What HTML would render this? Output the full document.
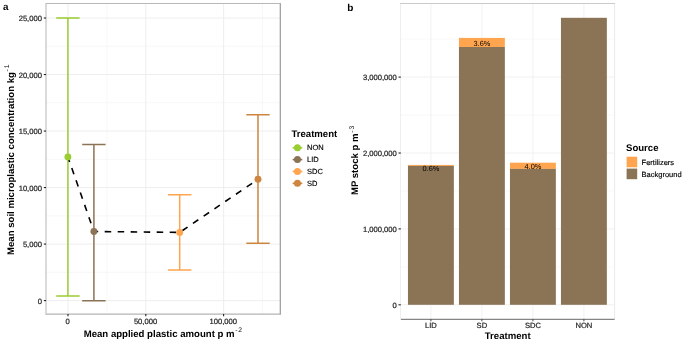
<!DOCTYPE html>
<html><head><meta charset="utf-8"><title>figure</title>
<style>
html,body{margin:0;padding:0;background:#fff;}
body{width:685px;height:343px;overflow:hidden;}
svg{display:block;will-change:transform;}
text{font-family:"Liberation Sans",sans-serif;fill:#000;text-rendering:geometricPrecision;}
.t{font-size:7.6px;fill:#262626;stroke:#262626;stroke-width:0.22px;}
.b{font-size:9.6px;font-weight:bold;}
.sup{font-size:6.7px;font-weight:normal;letter-spacing:1px;}
.l{font-size:7.5px;fill:#000;stroke:#000;stroke-width:0.15px;}
</style></head><body>
<svg width="685" height="343" viewBox="0 0 685 343">
<rect x="0" y="0" width="685" height="343" fill="#fff"/>

<g id="pa">
<line x1="46.0" x2="280.3" y1="272.34" y2="272.34" stroke="#f2f2f2" stroke-width="0.6"/>
<line x1="46.0" x2="280.3" y1="215.82" y2="215.82" stroke="#f2f2f2" stroke-width="0.6"/>
<line x1="46.0" x2="280.3" y1="159.30" y2="159.30" stroke="#f2f2f2" stroke-width="0.6"/>
<line x1="46.0" x2="280.3" y1="102.78" y2="102.78" stroke="#f2f2f2" stroke-width="0.6"/>
<line x1="46.0" x2="280.3" y1="46.26" y2="46.26" stroke="#f2f2f2" stroke-width="0.6"/>
<line y1="3.5" y2="314.1" x1="106.90" x2="106.90" stroke="#f2f2f2" stroke-width="0.6"/>
<line y1="3.5" y2="314.1" x1="262.50" x2="262.50" stroke="#f2f2f2" stroke-width="0.6"/>
<line x1="46.0" x2="280.3" y1="300.60" y2="300.60" stroke="#ececec" stroke-width="0.9"/>
<line x1="46.0" x2="280.3" y1="244.08" y2="244.08" stroke="#ececec" stroke-width="0.9"/>
<line x1="46.0" x2="280.3" y1="187.56" y2="187.56" stroke="#ececec" stroke-width="0.9"/>
<line x1="46.0" x2="280.3" y1="131.04" y2="131.04" stroke="#ececec" stroke-width="0.9"/>
<line x1="46.0" x2="280.3" y1="74.52" y2="74.52" stroke="#ececec" stroke-width="0.9"/>
<line x1="46.0" x2="280.3" y1="18.00" y2="18.00" stroke="#ececec" stroke-width="0.9"/>
<line y1="3.5" y2="314.1" x1="68.00" x2="68.00" stroke="#ececec" stroke-width="0.9"/>
<line y1="3.5" y2="314.1" x1="145.80" x2="145.80" stroke="#ececec" stroke-width="0.9"/>
<line y1="3.5" y2="314.1" x1="223.60" x2="223.60" stroke="#ececec" stroke-width="0.9"/>
<path d="M56.20 17.90H79.60M67.90 17.90V296.00M56.20 296.00H79.60" stroke="#9ACD32" stroke-width="1.5" fill="none"/>
<path d="M82.20 144.50H105.60M93.90 144.50V300.70M82.20 300.70H105.60" stroke="#8B7355" stroke-width="1.5" fill="none"/>
<path d="M168.00 194.80H191.40M179.70 194.80V270.00M168.00 270.00H191.40" stroke="#FFA54F" stroke-width="1.5" fill="none"/>
<path d="M246.30 114.70H269.70M258.00 114.70V243.20M246.30 243.20H269.70" stroke="#CD853F" stroke-width="1.5" fill="none"/>
<path d="M67.90 156.90 L93.90 231.50 L179.70 232.40 L258.00 179.30" stroke="#000" stroke-width="1.6" stroke-dasharray="6.5 6.5" stroke-dashoffset="1.2" fill="none"/>
<circle cx="67.90" cy="156.90" r="3.45" fill="#9ACD32"/>
<circle cx="93.90" cy="231.50" r="3.45" fill="#8B7355"/>
<circle cx="179.70" cy="232.40" r="3.45" fill="#FFA54F"/>
<circle cx="258.00" cy="179.30" r="3.45" fill="#CD853F"/>
<path d="M46.0 2.95V314.65000000000003" stroke="#bcbcbc" stroke-width="1.1"/>
<path d="M280.3 2.95V314.65000000000003" stroke="#9a9a9a" stroke-width="1.2"/>
<path d="M46.0 3.5H280.3" stroke="#b8b8b8" stroke-width="1.1"/>
<path d="M46.0 314.1H280.3" stroke="#b4b4b4" stroke-width="1.1"/>
<line x1="43.8" x2="46.0" y1="300.60" y2="300.60" stroke="#222" stroke-width="1.1"/>
<text class="t" x="41.9" y="303.70" text-anchor="end">0</text>
<line x1="43.8" x2="46.0" y1="244.08" y2="244.08" stroke="#222" stroke-width="1.1"/>
<text class="t" x="41.9" y="247.18" text-anchor="end">5,000</text>
<line x1="43.8" x2="46.0" y1="187.56" y2="187.56" stroke="#222" stroke-width="1.1"/>
<text class="t" x="41.9" y="190.66" text-anchor="end">10,000</text>
<line x1="43.8" x2="46.0" y1="131.04" y2="131.04" stroke="#222" stroke-width="1.1"/>
<text class="t" x="41.9" y="134.14" text-anchor="end">15,000</text>
<line x1="43.8" x2="46.0" y1="74.52" y2="74.52" stroke="#222" stroke-width="1.1"/>
<text class="t" x="41.9" y="77.62" text-anchor="end">20,000</text>
<line x1="43.8" x2="46.0" y1="18.00" y2="18.00" stroke="#222" stroke-width="1.1"/>
<text class="t" x="41.9" y="21.10" text-anchor="end">25,000</text>
<line y1="314.1" y2="316.3" x1="68.00" x2="68.00" stroke="#222" stroke-width="1.1"/>
<text class="t" x="67.70" y="323.9" text-anchor="middle">0</text>
<line y1="314.1" y2="316.3" x1="145.80" x2="145.80" stroke="#222" stroke-width="1.1"/>
<text class="t" x="145.50" y="323.9" text-anchor="middle">50,000</text>
<line y1="314.1" y2="316.3" x1="223.60" x2="223.60" stroke="#222" stroke-width="1.1"/>
<text class="t" x="223.30" y="323.9" text-anchor="middle">100,000</text>
<text class="b" x="163.4" y="336.8" text-anchor="middle">Mean applied plastic amount p m<tspan class="sup" dy="-4.4" dx="0.6">-2</tspan></text>
<text class="b" transform="translate(13.5 159.3) rotate(-90)" text-anchor="middle">Mean soil microplastic concentration kg<tspan class="sup" dy="-4.4" dx="0.6">-1</tspan></text>
<text x="3.1" y="10.2" font-size="9.8px" font-weight="bold">a</text>
<text class="b" x="291.4" y="136.7">Treatment</text>
<line x1="292.6" x2="302.3" y1="147.75" y2="147.75" stroke="#9ACD32" stroke-width="1.6"/>
<circle cx="297.45" cy="147.75" r="3.5" fill="#9ACD32"/>
<text class="l" x="307.1" y="150.25">NON</text>
<line x1="292.6" x2="302.3" y1="159.62" y2="159.62" stroke="#8B7355" stroke-width="1.6"/>
<circle cx="297.45" cy="159.62" r="3.5" fill="#8B7355"/>
<text class="l" x="307.1" y="162.12">LID</text>
<line x1="292.6" x2="302.3" y1="171.49" y2="171.49" stroke="#FFA54F" stroke-width="1.6"/>
<circle cx="297.45" cy="171.49" r="3.5" fill="#FFA54F"/>
<text class="l" x="307.1" y="173.99">SDC</text>
<line x1="292.6" x2="302.3" y1="183.36" y2="183.36" stroke="#CD853F" stroke-width="1.6"/>
<circle cx="297.45" cy="183.36" r="3.5" fill="#CD853F"/>
<text class="l" x="307.1" y="185.86">SD</text>
</g>
<g id="pb">
<line x1="400.6" x2="614.6" y1="266.85" y2="266.85" stroke="#f4f4f4" stroke-width="0.6"/>
<line x1="400.6" x2="614.6" y1="190.95" y2="190.95" stroke="#f4f4f4" stroke-width="0.6"/>
<line x1="400.6" x2="614.6" y1="115.05" y2="115.05" stroke="#f4f4f4" stroke-width="0.6"/>
<line x1="400.6" x2="614.6" y1="39.15" y2="39.15" stroke="#f4f4f4" stroke-width="0.6"/>
<line x1="400.6" x2="614.6" y1="304.80" y2="304.80" stroke="#efefef" stroke-width="0.9"/>
<line x1="400.6" x2="614.6" y1="228.90" y2="228.90" stroke="#efefef" stroke-width="0.9"/>
<line x1="400.6" x2="614.6" y1="153.00" y2="153.00" stroke="#efefef" stroke-width="0.9"/>
<line x1="400.6" x2="614.6" y1="77.10" y2="77.10" stroke="#efefef" stroke-width="0.9"/>
<line y1="3.5" y2="319.3" x1="430.9" x2="430.9" stroke="#efefef" stroke-width="0.9"/>
<line y1="3.5" y2="319.3" x1="481.9" x2="481.9" stroke="#efefef" stroke-width="0.9"/>
<line y1="3.5" y2="319.3" x1="532.9" x2="532.9" stroke="#efefef" stroke-width="0.9"/>
<line y1="3.5" y2="319.3" x1="583.9" x2="583.9" stroke="#efefef" stroke-width="0.9"/>
<path d="M400.6 3.5V319.3" fill="none" stroke="#eeeeee" stroke-width="1"/>
<path d="M614.6 3.5V319.3" fill="none" stroke="#eaeaea" stroke-width="1"/>
<line x1="400.1" x2="615.1" y1="3.5" y2="3.5" stroke="#cacaca" stroke-width="1"/>
<rect x="407.95" y="164.9" width="45.9" height="1.00" fill="#FFA54F"/>
<rect x="407.95" y="165.9" width="45.9" height="138.90" fill="#8B7355"/>
<rect x="458.95" y="37.9" width="45.9" height="9.10" fill="#FFA54F"/>
<rect x="458.95" y="47.0" width="45.9" height="257.80" fill="#8B7355"/>
<rect x="509.95" y="162.7" width="45.9" height="6.20" fill="#FFA54F"/>
<rect x="509.95" y="168.9" width="45.9" height="135.90" fill="#8B7355"/>
<rect x="560.95" y="17.8" width="45.9" height="287.00" fill="#8B7355"/>
<text x="430.9" y="171.10" font-size="7.4px" text-anchor="middle" fill="#222">0.6%</text>
<text x="481.9" y="45.90" font-size="7.4px" text-anchor="middle" fill="#222">3.6%</text>
<text x="532.9" y="169.10" font-size="7.4px" text-anchor="middle" fill="#222">4.0%</text>
<line x1="400.90000000000003" x2="614.6" y1="319.3" y2="319.3" stroke="#4a4a4a" stroke-width="0.85"/>
<line x1="398.5" x2="400.8" y1="304.80" y2="304.80" stroke="#222" stroke-width="1.1"/>
<text class="t" x="396.8" y="307.50" text-anchor="end">0</text>
<line x1="398.5" x2="400.8" y1="228.90" y2="228.90" stroke="#222" stroke-width="1.1"/>
<text class="t" x="396.8" y="231.60" text-anchor="end">1,000,000</text>
<line x1="398.5" x2="400.8" y1="153.00" y2="153.00" stroke="#222" stroke-width="1.1"/>
<text class="t" x="396.8" y="155.70" text-anchor="end">2,000,000</text>
<line x1="398.5" x2="400.8" y1="77.10" y2="77.10" stroke="#222" stroke-width="1.1"/>
<text class="t" x="396.8" y="79.80" text-anchor="end">3,000,000</text>
<line y1="319.3" y2="321.3" x1="430.9" x2="430.9" stroke="#333" stroke-width="0.9"/>
<text class="t" x="430.9" y="328.1" text-anchor="middle">LID</text>
<line y1="319.3" y2="321.3" x1="481.9" x2="481.9" stroke="#333" stroke-width="0.9"/>
<text class="t" x="481.9" y="328.1" text-anchor="middle">SD</text>
<line y1="319.3" y2="321.3" x1="532.9" x2="532.9" stroke="#333" stroke-width="0.9"/>
<text class="t" x="532.9" y="328.1" text-anchor="middle">SDC</text>
<line y1="319.3" y2="321.3" x1="583.9" x2="583.9" stroke="#333" stroke-width="0.9"/>
<text class="t" x="583.9" y="328.1" text-anchor="middle">NON</text>
<text class="b" x="507.7" y="338.7" text-anchor="middle">Treatment</text>
<text class="b" transform="translate(357.9 160.0) rotate(-90)" text-anchor="middle">MP stock p m<tspan class="sup" dy="-4.4" dx="0.6">-3</tspan></text>
<text x="347.3" y="10.7" font-size="10px" font-weight="bold">b</text>
<text class="b" x="626" y="151.2">Source</text>
<rect x="626.6" y="156.7" width="10.6" height="10.6" fill="#FFA54F"/>
<rect x="626.6" y="168.6" width="10.6" height="10.6" fill="#8B7355"/>
<text class="l" x="641.6" y="164.7">Fertilizers</text>
<text class="l" x="641.6" y="176.6">Background</text>
</g>
</svg>
</body></html>
